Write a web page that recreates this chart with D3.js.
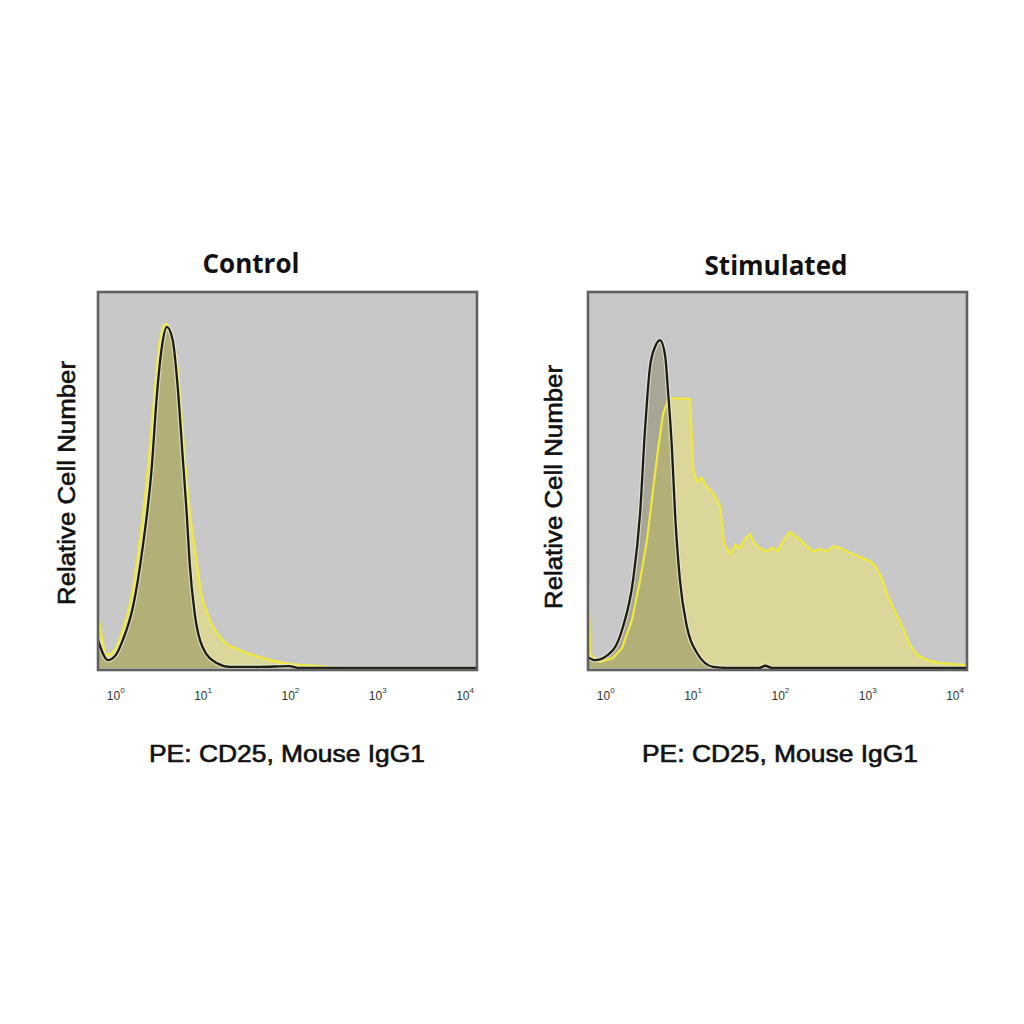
<!DOCTYPE html>
<html>
<head>
  <title>CD25 flow histograms</title>
  <script type="text/javascript" src="https://cdn.jsdelivr.net/npm/d3@7"></script>
  <style>
    body {
      margin: 0;
      background: #ffffff;
    }
    text {
      font-family: "Liberation Sans", Arial, sans-serif;
    }
    .title {
      font-family: "Open Sans", sans-serif;
      font-weight: bold;
      font-size: 26px;
    }
    .label {
      font-size: 23px;
      stroke: #111;
      stroke-width: 0.6px;
    }
  </style>
</head>
<body>
  <div id="chart"></div>
  <script type="text/javascript">

  // values are [PE intensity, relative count]
  var controlIsotype = [
    [0.661, 7.4], [0.86, 2.1], [1.06, 3.5], [1.27, 7.4], [1.66, 16.2],
    [2.15, 32.2], [2.73, 53.5], [3.11, 72.1], [3.56, 85.4], [4.06, 90.7],
    [4.74, 87.2], [5.41, 74.7], [6.17, 56.1], [6.85, 41.2], [7.41, 27.9],
    [8.45, 14.6], [10.4, 5.6], [15.1, 1.3], [21.2, 0.3], [46.8, 0.3],
    [102, 0.5], [135, 0], [14450, 0]
  ];

  var controlSample = [
    [0.661, 14.6], [0.84, 3.5], [1.03, 4.8], [1.21, 8.8], [1.57, 18.1],
    [1.99, 34], [2.52, 55.3], [2.95, 73.9], [3.37, 87.2], [3.94, 91.5],
    [4.62, 88.6], [5.41, 79.3], [6.68, 52.7], [7.62, 39.4], [8.69, 30],
    [9.91, 20.7], [12.6, 12.8], [17.7, 7.4], [27.5, 4.8], [50.6, 2.7],
    [102, 1.1], [226, 0.5], [380, 0], [14450, 0]
  ];

  var stimIsotype = [
    [0.661, 2.9], [0.79, 2.1], [1.28, 4.8], [1.66, 10.9], [2.17, 23.4],
    [2.61, 41.2], [2.97, 63.3], [3.39, 80.1], [3.87, 85.4], [4.42, 87.2],
    [5.04, 83.2], [5.46, 73.4], [6.05, 58.2], [6.56, 41.2], [7.46, 23.4],
    [8.99, 10.9], [11.7, 4], [17.9, 0.3], [25.9, 0], [60, 0], [70.8, 0.6],
    [85, 0], [14450, 0]
  ];

  var stimSample = [
    [0.661, 26.1], [0.70, 3.5], [0.91, 1.6], [1.28, 2.7], [1.62, 5.3],
    [2.11, 12.8], [2.61, 23.4], [3.13, 34], [3.67, 47.3], [4.19, 58.2],
    [4.79, 67.6], [5.46, 71.3], [6.05, 71.8], [9.75, 71.5], [10.6, 52.7],
    [11.7, 49.5], [13.2, 50.6], [15.3, 48.1], [17.9, 46.5], [21.5, 43.1],
    [23.9, 33], [28, 30.3], [32, 32.8], [36.4, 31.9], [41, 34.1],
    [47.4, 35.6], [52, 33.6], [57, 32.4], [65, 31.5], [74.3, 31.1],
    [85, 32.0], [96.6, 31.1], [115, 34.0], [136, 36.2], [155, 35.1],
    [177, 34.3], [210, 32.4], [250, 31.1], [300, 31.6], [361, 31.1],
    [430, 32.4], [509, 31.9], [610, 31.0], [718, 30.3], [984, 29],
    [1150, 28.2], [1315, 26.9], [1542, 23.7], [1758, 19.7], [2061, 16],
    [2350, 13.4], [2679, 10.6], [3221, 6.1], [3882, 3.5], [5047, 2.1],
    [7112, 1.3], [14450, 0.8]
  ];

  var panelTitles = ['Control', 'Stimulated'];
  var decades = [0, 1, 2, 3, 4];
  var xLabel = 'PE: CD25, Mouse IgG1';
  var yLabel = 'Relative Cell Number';

  var panels = [
    { title: panelTitles[0], iso: controlIsotype, sample: controlSample,
      sampleCurve: d3.curveMonotoneX,
      left: 98, titleX: 251, titleY: 273, xLabelX: 287, yLabelX: 75, yLabelY: 483 },
    { title: panelTitles[1], iso: stimIsotype, sample: stimSample,
      sampleCurve: d3.curveLinear,
      left: 588, titleX: 776, titleY: 275, xLabelX: 780, yLabelX: 562, yLabelY: 487 }
  ];

  var plotTop = 292, plotBottom = 670, plotW = 379;

  var svg = d3.select('#chart').append('svg')
      .attr('width', 1024)
      .attr('height', 1024);

  panels.forEach(function(p, i) {
    var x = d3.scaleLog()
        .domain([0.661, 14450])
        .range([p.left, p.left + plotW]);
    var y = d3.scaleLinear()
        .domain([0, 100])
        .range([plotBottom - 2, plotTop]);

    var g = svg.append('g');

    g.append('clipPath').attr('id', 'clip' + i)
      .append('rect')
        .attr('x', p.left).attr('y', plotTop)
        .attr('width', plotW).attr('height', plotBottom - plotTop);

    g.append('rect')
      .attr('x', p.left).attr('y', plotTop)
      .attr('width', plotW).attr('height', plotBottom - plotTop)
      .attr('fill', '#c8c8c9');

    function makeArea(curve) {
      return d3.area()
        .curve(curve)
        .x(function(d) { return x(d[0]); })
        .y0(y(0))
        .y1(function(d) { return y(d[1]); });
    }
    function makeLine(curve) {
      return d3.line()
        .curve(curve)
        .x(function(d) { return x(d[0]); })
        .y(function(d) { return y(d[1]); });
    }

    var plot = g.append('g').attr('clip-path', 'url(#clip' + i + ')');

    plot.append('path')
      .datum(p.sample)
      .attr('d', makeArea(p.sampleCurve))
      .attr('fill', 'rgba(234,226,118,0.56)');

    plot.append('path')
      .datum(p.iso)
      .attr('d', makeArea(d3.curveMonotoneX))
      .attr('fill', 'rgba(108,104,64,0.36)');

    plot.append('path')
      .datum(p.sample)
      .attr('d', makeLine(p.sampleCurve))
      .attr('fill', 'none')
      .attr('stroke', '#eee93c')
      .attr('stroke-width', 2.2);

    plot.append('path')
      .datum(p.iso)
      .attr('d', makeLine(d3.curveMonotoneX))
      .attr('fill', 'none')
      .attr('stroke', '#ecebd8')
      .attr('stroke-width', 4.6)
      .attr('stroke-opacity', 0.7);

    plot.append('path')
      .datum(p.iso)
      .attr('d', makeLine(d3.curveMonotoneX))
      .attr('fill', 'none')
      .attr('stroke', '#1c1c14')
      .attr('stroke-width', 2.3);

    // frame
    g.append('rect')
      .attr('x', p.left).attr('y', plotTop)
      .attr('width', plotW).attr('height', plotBottom - plotTop)
      .attr('fill', 'none')
      .attr('stroke', '#616161')
      .attr('stroke-width', 2.6);

    // decade labels
    var ticks = g.selectAll('.tick')
      .data(decades)
      .enter().append('text')
        .attr('class', 'tick')
        .attr('x', function(d) { return x(Math.pow(10, d)) + 2; })
        .attr('y', 700)
        .attr('text-anchor', 'middle')
        .attr('fill', '#333')
        .style('font-size', '12px')
        .text('10');
    ticks.append('tspan')
      .attr('dy', -7)
      .style('font-size', '8px')
      .text(function(d) { return d; });

    g.append('text')
      .attr('class', 'title')
      .attr('x', p.titleX)
      .attr('y', p.titleY)
      .attr('text-anchor', 'middle')
      .attr('fill', '#111')
      .text(p.title);

    g.append('text')
      .attr('class', 'label')
      .attr('x', p.xLabelX)
      .attr('y', 762)
      .attr('text-anchor', 'middle')
      .attr('textLength', 276)
      .attr('lengthAdjust', 'spacingAndGlyphs')
      .attr('fill', '#111')
      .text(xLabel);

    g.append('text')
      .attr('class', 'label')
      .attr('transform', 'translate(' + p.yLabelX + ',' + p.yLabelY + ') rotate(-90)')
      .attr('text-anchor', 'middle')
      .attr('textLength', 244)
      .attr('lengthAdjust', 'spacingAndGlyphs')
      .attr('fill', '#111')
      .text(yLabel);
  });

  </script>
</body>
</html>
